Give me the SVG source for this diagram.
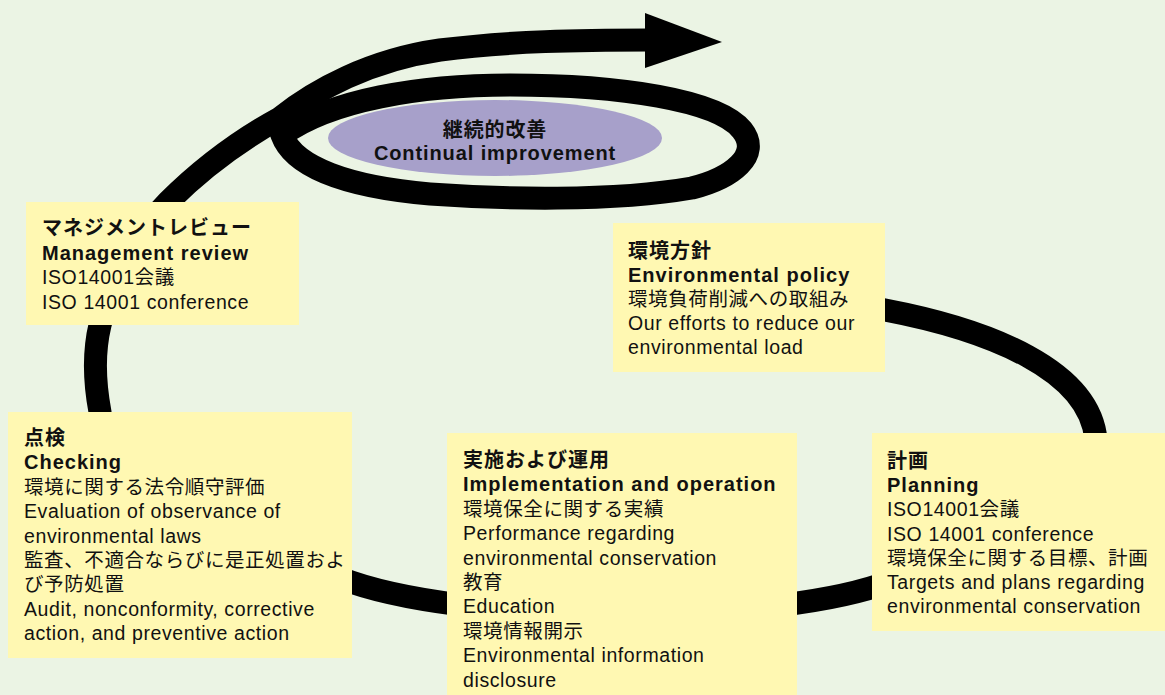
<svg xmlns="http://www.w3.org/2000/svg" width="1165" height="695" viewBox="0 0 1165 695">
<style>
.box{fill:#FFF8B2}
.t{font-family:"Liberation Sans","Noto Sans CJK JP",sans-serif;font-size:19.5px;letter-spacing:0.6px;fill:#111}
.h{font-weight:bold;font-size:20px;letter-spacing:1px}
.e{font-size:20px;letter-spacing:0.9px}
.line{fill:none;stroke:#000;stroke-width:23}
</style>
<rect x="0" y="0" width="1165" height="695" fill="#EBF4E4"/>
<g id="connectors">
<path class="line" d="M 860,305 L 885,310 C 990,330 1090,370 1096,440 C 1100,520 1000,580 880,585 C 760,625 460,625 340,578 C 220,560 100,520 100,412 C 94,380 94,350 100,325 C 110,280 140,230 168,202 C 200,170 240,140 280,118 C 315,90 370,60 440,50 C 510,41 580,40 650,40"/>
<path class="line" stroke-width="24" d="M 282,135 C 330,100 420,85 510,85 C 620,85 718,100 742,130 C 762,155 732,178 692,188 C 612,202 500,199 430,194 C 350,187 294,168 282,135 Z"/>
<polygon points="645,13 722,42 645,68" fill="#000"/>
</g>
<g id="continual-improvement">
<ellipse cx="495" cy="138" rx="167" ry="38" fill="#A7A0CA"/>
<text class="t h e" x="495" y="137" text-anchor="middle">継続的改善</text>
<text class="t h e" x="495" y="160" text-anchor="middle">Continual improvement</text>
</g>
<g id="management-review">
<rect class="box" x="26" y="202" width="273" height="123"/>
<text class="t h" x="42" y="235">マネジメントレビュー</text>
<text class="t h" x="42" y="259.5">Management review</text>
<text class="t" x="42" y="284">ISO14001会議</text>
<text class="t" x="42" y="308.5">ISO 14001 conference</text>
</g>
<g id="environmental-policy">
<rect class="box" x="613" y="223" width="272" height="149"/>
<text class="t h" x="628" y="258">環境方針</text>
<text class="t h" x="628" y="282">Environmental policy</text>
<text class="t" x="628" y="306">環境負荷削減への取組み</text>
<text class="t" x="628" y="330">Our efforts to reduce our</text>
<text class="t" x="628" y="354">environmental load</text>
</g>
<g id="checking">
<rect class="box" x="8" y="412" width="344" height="246"/>
<text class="t h" x="24" y="445">点検</text>
<text class="t h" x="24" y="469.4">Checking</text>
<text class="t" x="24" y="493.8">環境に関する法令順守評価</text>
<text class="t" x="24" y="518.2">Evaluation of observance of</text>
<text class="t" x="24" y="542.6">environmental laws</text>
<text class="t" x="24" y="567">監査、不適合ならびに是正処置およ</text>
<text class="t" x="24" y="591.4">び予防処置</text>
<text class="t" x="24" y="615.8">Audit, nonconformity, corrective</text>
<text class="t" x="24" y="640.2">action, and preventive action</text>
</g>
<g id="implementation">
<rect class="box" x="447" y="433" width="350" height="262"/>
<text class="t h" x="463" y="467">実施および運用</text>
<text class="t h" x="463" y="491.4">Implementation and operation</text>
<text class="t" x="463" y="515.8">環境保全に関する実績</text>
<text class="t" x="463" y="540.2">Performance regarding</text>
<text class="t" x="463" y="564.6">environmental conservation</text>
<text class="t" x="463" y="589">教育</text>
<text class="t" x="463" y="613.4">Education</text>
<text class="t" x="463" y="637.8">環境情報開示</text>
<text class="t" x="463" y="662.2">Environmental information</text>
<text class="t" x="463" y="686.6">disclosure</text>
</g>
<g id="planning">
<rect class="box" x="872" y="433" width="293" height="198"/>
<text class="t h" x="887" y="468">計画</text>
<text class="t h" x="887" y="492.2">Planning</text>
<text class="t" x="887" y="516.4">ISO14001会議</text>
<text class="t" x="887" y="540.6">ISO 14001 conference</text>
<text class="t" x="887" y="564.8">環境保全に関する目標、計画</text>
<text class="t" x="887" y="589">Targets and plans regarding</text>
<text class="t" x="887" y="613.2">environmental conservation</text>
</g>
</svg>
